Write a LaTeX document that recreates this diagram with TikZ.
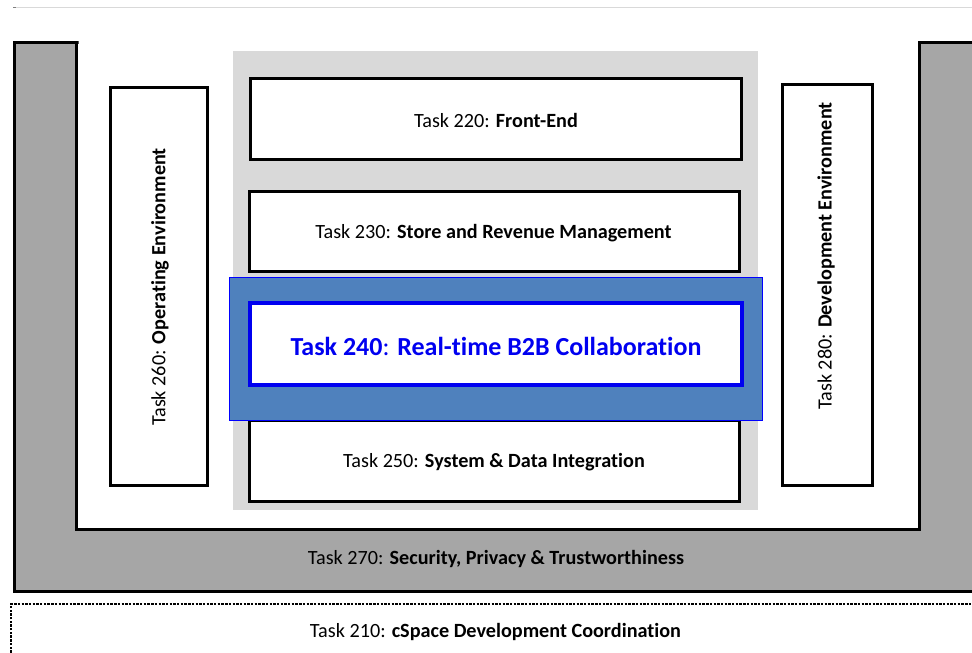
\documentclass[tikz,border=0pt]{standalone}
\usepackage{fontspec}
\setmainfont{Carlito}[Ligatures=NoCommon]
\definecolor{ugray}{HTML}{A6A6A6}
\definecolor{pgray}{HTML}{D9D9D9}
\definecolor{band}{HTML}{4F81BD}
\definecolor{ttblue}{HTML}{0000F0}
\begin{document}
\begin{tikzpicture}[x=1pt,y=-1pt,
  every node/.style={font=\fontsize{20.2}{24}\selectfont},
  taskbox/.style={draw=black,line width=3pt,fill=white,inner sep=0pt,rectangle},
  lbl/.style={inner sep=0pt,text=black},
  vlbl/.style={inner sep=0pt,text=black,rotate=90}]
\useasboundingbox (0,0) rectangle (972,653);
% top rule
\draw[pgray,line width=1pt] (13,7) -- (972,7);
\draw[gray,line width=1pt] (13,7) -- (16,7);
% U-shaped security frame
\draw[fill=ugray,line width=3pt,line join=miter]
  (14.3,42.3) -- (78.5,42.3) -- (76.5,42.3) -- (76.5,529.5) -- (919.5,529.5)
  -- (919.5,42.3) -- (985,42.3) -- (985,591.3) -- (14.3,591.3) -- cycle;
% grey panel
\fill[pgray] (232.5,51) rectangle (757.5,509.5);
% boxes
\node[taskbox,minimum width=490.5pt,minimum height=81pt] (fe) at (495.75,118.5) {};
\node[taskbox,minimum width=490pt,minimum height=80pt] (st) at (494.5,231.5) {};
\node[taskbox,minimum width=490pt,minimum height=81pt] (sy) at (494.5,461) {};
\node[taskbox,minimum width=97pt,minimum height=398pt] (op) at (159,286.5) {};
\node[taskbox,minimum width=90pt,minimum height=401pt] (dv) at (827.5,285) {};
% highlighted band
\node[draw=blue,line width=0.8pt,fill=band,minimum width=533pt,minimum height=143pt,inner sep=0pt] (bd) at (496,349) {};
\node[draw=ttblue,line width=4pt,fill=white,minimum width=492pt,minimum height=82pt,inner sep=0pt] (rt) at (496,344) {};
% labels
\node[lbl] (tfe) at (496,120) {Task 220: \textbf{Front-End}};
\node[lbl] (tst) at (493.5,233) {Task 230: \textbf{Store and Revenue Management}};
\node[lbl,text=ttblue,font=\fontsize{26}{30}\selectfont\bfseries] (trt) at (496,346) {Task 240\textmd{:} Real-time B2B Collaboration};
\node[lbl] (tsy) at (494,462) {Task 250: \textbf{System \& Data Integration}};
\node[vlbl] (top) at (160,287) {Task 260: \textbf{Operating Environment}};
\node[vlbl] (tdv) at (826,256) {Task 280: \textbf{Development Environment}};
\node[lbl] (tse) at (496,559) {Task 270: \textbf{Security, Privacy \& Trustworthiness}};
% coordination (dotted)
\coordinate (c1) at (11,660);
\coordinate (c2) at (11,604);
\coordinate (c3) at (985,604);
\draw[line width=2.8pt,dash pattern=on 2.4pt off 1.3pt] (c1) -- (c2) -- (c3);
\node[lbl] (tco) at (495.5,632) {Task 210: \textbf{cSpace Development Coordination}};
\end{tikzpicture}
\end{document}
